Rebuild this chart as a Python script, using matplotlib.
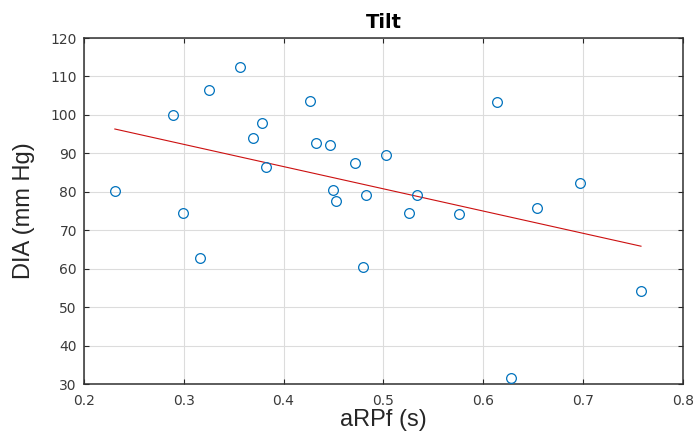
import numpy as np
import matplotlib
matplotlib.use('Agg')
import matplotlib.pyplot as plt

# aRPf (s) vs DIA (mm Hg), tilt condition
arpf = [0.231, 0.289, 0.299, 0.316, 0.325, 0.356, 0.369, 0.378, 0.382,
        0.426, 0.432, 0.447, 0.450, 0.453, 0.472, 0.480, 0.483, 0.503,
        0.526, 0.534, 0.576, 0.614, 0.628, 0.654, 0.697, 0.758]
dia = [80.3, 100.0, 74.6, 62.8, 106.5, 112.4, 93.9, 97.8, 86.5,
       103.7, 92.7, 92.2, 80.6, 77.7, 87.5, 60.5, 79.1, 89.7,
       74.6, 79.1, 74.3, 103.3, 31.5, 75.9, 82.2, 54.1]

xticks = [0.2, 0.3, 0.4, 0.5, 0.6, 0.7, 0.8]
yticks = [30, 40, 50, 60, 70, 80, 90, 100, 110, 120]

x = np.array(arpf)
y = np.array(dia)

# least squares line over data range
slope, intercept = np.polyfit(x, y, 1)
xfit = np.array([x.min(), x.max()])
yfit = slope * xfit + intercept

plt.rcParams['font.family'] = ['Liberation Sans', 'DejaVu Sans']

fig = plt.figure(figsize=(6.99, 4.32), dpi=100)
ax = fig.add_axes([0.120, 0.111, 0.857, 0.801])

ax.plot(x, y, 'o', markersize=7, markerfacecolor='none',
        markeredgecolor='#0072BD', markeredgewidth=0.9, zorder=3)
ax.plot(xfit, yfit, '-', color='#cc1010', linewidth=0.8, zorder=2)

ax.set_xlim(0.2, 0.8)
ax.set_ylim(30, 120)
ax.set_xticks(xticks)
ax.set_yticks(yticks)
ax.set_xticklabels([f'{v:g}' for v in xticks])
ax.grid(True, color='#dcdcdc', linewidth=0.8)
ax.set_axisbelow(True)

ax.tick_params(direction='in', top=True, right=True, length=3.5,
               labelsize=10, labelcolor='#3a3a3a', color='#262626', width=0.8)
ax.tick_params(axis='x', pad=7)
ax.tick_params(axis='y', pad=5)
for lbl in ax.get_xticklabels() + ax.get_yticklabels():
    lbl.set_family('DejaVu Sans')
for s in ax.spines.values():
    s.set_color('#303030')
    s.set_linewidth(1.1)

ax.set_xlabel('aRPf (s)', fontsize=17, color='#262626', labelpad=1)
ax.set_ylabel('DIA (mm Hg)', fontsize=17, color='#262626', labelpad=11)
ax.set_title('Tilt', fontsize=14, fontweight='bold', family='DejaVu Sans', pad=7)

fig.savefig('out.png', dpi=100)
